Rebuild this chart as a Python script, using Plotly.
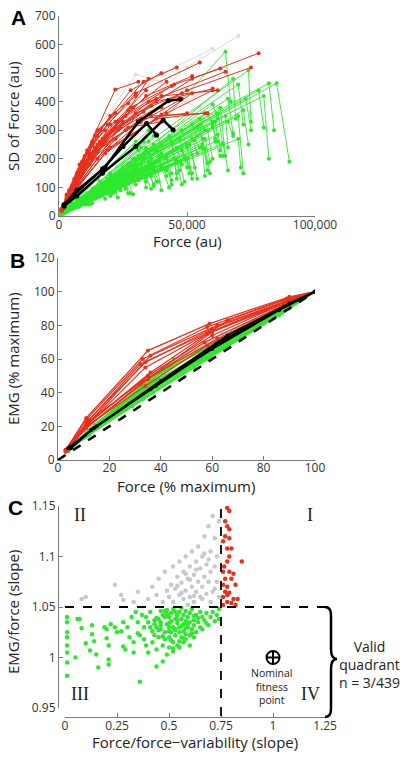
import plotly.graph_objects as go

W, H = 406, 757

# ---------------- Panel A data (force in thousands au, SD in au) ----------------
A_grey_x = [[2,8,25,50,70],[2,7,20,40,60],[1.5,5,14,30,40],[2,9,28,60,75],[1.5,6,18,40,55]]
A_grey_y = [[30,110,330,520,630],[35,120,330,500,585],[30,100,290,495,470],[30,100,300,450,360],[25,90,270,430,380]]

A_green_x = [[2,8,25,55,58],[2,9,28,63,65],[3,10,32,70,72],[3,11,35,80,82],[3,12,38,85,90],
             [2,8,24,50,52],[2,7,20,42,44],[1,5,15,32,34],[1,4,12,25,27],[1.5,6,18,38,40],
             [2,9,27,58,60],[3,10,30,65,66],[2,8,26,54,56],[2,7,22,46,48],[1,5,16,34,36],
             [1,4,13,28,30],[2,8,23,48,50],[3,11,33,73,75],[3,12,36,78,80],[3,10,30,68,69],
             [2,9,29,62,64],[1.5,6,19,40,42],[1,4,10,22,24],[1,3,9,18,20],[1,3,8,16,18],
             [0.5,2,6,12,13],[0.5,2,5,10,11],[2,7,21,44,46],[2,9,26,52,54],[2,8,25,50,52],
             [1.5,6,17,36,38],[1,5,14,30,31],[3,11,34,70,72],[3,10,31,66,68],[2,9,28,60,61],
             [2,8,24,47,49],[1.5,6,18,42,44],[1,4,11,24,26],[1,4,12,26,28],[2,7,20,40,42],
             [3,11,33,65,67],[3,12,35,74,75],[2,9,27,55,57],[2,8,23,48,50],[1,5,15,33,35],
             [1,5,14,29,31],[2,7,19,37,39],[1.5,6,16,31,33],[1,3,10,20,22],[2,8,22,43,45],
             [3,10,30,60,62],[2,9,25,52,54],[1,4,13,27,29],[1,3,7,14,15],[0.5,2,7,15,16],
             [2,8,20,38,40],[2,7,18,35,37],[1.5,5,15,30,32],[3,11,34,82,84],[2,10,30,58,60],
             [2,8,21,47,49],[2,9,24,56,57],[1,5,16,35,37],[2,7,22,51,53],[3,10,29,61,63],
             [1,4,14,33,34],[2,6,19,45,46],[1,5,17,39,41],[2,8,26,57,59],[1,3,11,25,26],
             [1.5,6,18,40,43],[2,7,21,46,48],[2,8,24,52,54],[2,9,27,57,59],[3,10,31,64,66],
             [3,11,34,70,71],[1,4,12,27,29],[1,5,15,34,36],[2,6,19,42,44],[2,8,23,50,51],
             [2,9,26,56,58],[3,10,30,62,64],[1,3,10,22,23],[0.5,2,5,11,12],[1,4,11,21,23],
             [1.5,5,14,30,32],[2,7,20,44,46],[2,8,25,53,55],[3,11,32,66,68],[3,12,36,72,74],
             [2,6,17,36,37],[1,5,13,26,28],[2,7,18,37,39],[2,8,22,46,47],[1,4,10,19,20],
             [3,10,29,60,62],[2,9,28,61,63],[1,3,9,20,21],[1.5,6,17,35,37],[2,8,24,49,51]]
A_green_y = [[15,50,150,320,160],[18,60,180,380,210],[20,65,200,350,150],[22,70,220,420,200],[20,65,230,465,190],
             [12,40,120,250,130],[10,35,100,210,110],[10,32,90,180,100],[8,25,70,140,80],[10,35,95,190,90],
             [14,48,140,300,200],[20,60,170,350,240],[14,50,150,310,270],[12,42,120,240,180],[10,30,90,170,140],
             [9,28,75,150,110],[10,38,110,230,170],[20,70,210,410,300],[22,75,230,440,310],[20,65,200,480,340],
             [15,55,180,360,250],[10,38,110,220,160],[8,22,60,120,90],[7,20,50,100,70],[6,18,45,90,60],
             [5,14,35,70,45],[5,13,30,55,40],[12,40,120,260,150],[13,45,130,270,220],[12,40,120,200,150],
             [10,33,95,170,120],[9,28,80,160,130],[22,75,240,460,320],[20,68,210,410,290],[16,58,170,330,270],
             [14,48,140,270,210],[10,36,100,200,150],[9,25,65,130,100],[8,24,60,110,80],[11,36,100,180,140],
             [22,80,260,575,400],[22,80,260,510,330],[16,60,180,340,300],[14,52,150,300,240],[10,35,100,220,190],
             [10,33,95,200,160],[12,45,130,250,210],[12,42,120,230,200],[9,28,70,140,120],[14,50,140,280,230],
             [20,70,200,390,340],[16,58,170,320,280],[10,35,95,180,160],[8,22,55,100,90],[6,18,45,80,70],
             [15,55,150,290,250],[15,55,160,300,280],[12,45,130,260,240],[20,70,230,465,300],[16,62,190,360,320],
             [11,35,95,190,120],[12,40,115,240,140],[9,30,85,165,105],[12,42,125,250,170],[18,60,175,330,230],
             [8,26,80,160,120],[10,34,100,200,130],[9,31,95,190,170],[13,44,135,270,190],[7,22,60,115,95],
             [10,30,80,170,100],[11,34,90,190,110],[12,38,105,215,130],[13,42,115,235,150],[15,46,125,255,160],
             [16,50,135,270,170],[7,20,55,115,75],[8,24,65,135,95],[9,28,80,165,125],[10,32,95,200,150],
             [12,40,120,250,185],[14,46,140,285,210],[6,16,40,85,65],[4,10,25,50,40],[8,22,60,125,110],
             [10,30,85,170,150],[12,38,110,225,190],[14,44,130,265,240],[18,56,165,330,280],[20,62,185,370,250],
             [12,36,100,200,175],[9,27,75,150,130],[10,30,85,160,120],[12,36,100,200,160],[7,19,50,100,85],
             [17,55,160,310,260],[14,46,135,260,210],[7,18,48,95,80],[9,28,75,150,110],[11,36,100,200,170]]

A_red_x = [[1.5,5,14,28,40],[1,4,11,22,31],[2,6,16,33,46],[1.5,5,13,30,55],[2,7,20,45,63],
           [2,7,22,52,78],[2,8,23,50,75],[1.5,5,15,35,65],[1,4,12,28,44],[1,4,10,20,30],
           [1,3,8,15,22],[1,3,9,19,27],[1.5,5,14,30,48],[2,6,18,38,60],[2,6,19,40,62],
           [1,3,7,13,18],[1,3,6,11,15],[1,4,9,17,25],[1,4,11,24,36],[1.5,5,15,32,50],
           [2,6,17,36,58],[1,3,8,16,23],[1,4,12,26,38],[1.5,5,14,29,42],[1,4,10,21,33],
           [1.5,6,16,34,52],[1,3,10,22,34],[1,3,7,15,22],[1,4,13,27,40],[1.5,5,14,27,35],
           [2,7,20,42,60],[2,6,18,38,57],[1.5,5,15,32,48],[1,4,12,26,40],[2,7,19,40,52]]
A_red_y = [[30,100,280,440,500],[25,85,230,443,470],[35,110,300,470,520],[30,95,260,430,537],[35,120,320,460,516],
           [30,110,310,480,570],[30,115,300,440,520],[28,90,250,400,505],[22,80,220,380,455],[24,90,210,350,420],
           [20,75,180,300,360],[18,70,190,320,395],[25,85,230,360,430],[30,100,260,400,445],[32,105,280,420,440],
           [20,60,150,250,300],[18,55,130,220,280],[22,70,170,270,330],[22,75,190,310,385],[26,88,230,340,360],
           [30,95,250,350,360],[22,65,160,260,330],[24,80,210,350,410],[28,90,240,380,470],[20,70,180,300,365],
           [30,100,260,420,490],[22,72,190,330,440],[20,62,140,230,270],[20,72,200,310,330],[26,88,230,370,480],
           [30,100,240,360,440],[28,90,220,340,360],[25,80,200,330,410],[20,70,180,300,380],[30,95,230,355,430]]

A_black_x = [[2,7,18,31,42.7,47.3],[2,6,17,25,34.2,38.1],[2,7,17,30,40.7,44.6]]
A_black_y = [[40,90,170,330,403,409],[38,75,165,243,324,283],[35,70,150,243,336,301]]

# ---------------- Panel B data (% maximum) ----------------
B_green_x = [[4,12,36,60,85,100],[4,11,33,58,83,100],[5,13,40,65,90,100],[3,10,30,55,80,100],[4,12,38,62,88,100],
             [5,14,44,68,92,100],[4,12,35,60,86,100],[3,9,28,52,78,100],[4,11,34,57,82,100],[5,15,42,70,93,100],
             [4,12,37,63,90,100],[3,10,31,55,84,100],[4,13,39,66,89,100],[4,11,33,59,87,100],[5,14,43,64,85,100],
             [4,12,40,62,82,100],[3,10,29,53,80,100],[4,12,36,61,91,100],[5,13,45,67,88,100],[4,12,34,58,84,100],
             [4,13,41,64,86,100],[5,12,38,60,90,100],[3,11,32,57,83,100],[4,14,42,69,91,100]]
B_green_y = [[6,16,42,65,88,100],[6,15,38,61,84,100],[8,18,46,70,92,100],[5,14,36,60,83,100],[7,17,45,68,90,100],
             [8,20,55,75,95,100],[6,15,40,63,86,100],[5,13,34,57,80,100],[6,16,42,62,86,100],[8,20,50,76,94,100],
             [6,15,40,65,90,100],[5,14,37,59,85,100],[7,19,48,72,91,100],[5,14,36,61,87,100],[8,21,56,72,88,100],
             [7,18,52,70,86,100],[5,13,32,55,81,100],[6,16,44,67,93,100],[8,19,60,74,90,100],[6,15,38,60,84,100],
             [7,19,53,71,88,100],[8,17,47,66,91,100],[5,15,39,61,85,100],[7,20,54,75,93,100]]

B_grey_x = [[4,12,38,62,88,100],[5,13,36,60,86,100],[4,11,40,64,90,100],[3,12,34,58,85,100]]
B_grey_y = [[7,20,52,72,92,100],[8,21,50,72,91,100],[7,19,55,75,93,100],[6,20,48,70,90,100]]

B_red_x = [[3,11,35,59,90,100],[3,11,33,58,89,100],[4,12,34,60,90,100],[3,11,32,59,88,100],[4,12,36,62,90,100],
           [3,11,34,58,90,100],[4,11,35,60,88,100],[3,12,33,62,90,100],[4,11,35,57,88,100],[3,10,32,60,90,100],
           [4,12,36,66,90,100],[3,11,34,58,89,100]]
B_red_y = [[6,25,65,81,97,100],[6,24,60,79,96,100],[7,24,58,78,95,100],[6,22,57,76,94,100],[7,22,62,80,95,100],
           [6,20,55,75,94,100],[6,21,50,74,93,100],[6,23,47,72,93,100],[7,19,48,70,92,100],[5,18,45,76,95,100],
           [7,22,52,83,96,100],[6,20,44,68,92,100]]

B_black_x = [[5,15,40,66,90,100],[5,14,38,63,88,100],[4,13,36,60,86,100]]
B_black_y = [[8,20,47,74,93,100],[7,19,44,70,91,100],[7,18,42,66,89,100]]

B_identity = [0, 100]

# ---------------- Panel C data (slopes) ----------------
C_green_x = [0.01,0.01,0.01,0.01,0.01,0.01,0.01,0.01,0.05,0.07,0.08,0.1,0.12,0.13,0.13,0.14,0.15,0.16,0.19,0.2,
             0.2,0.21,0.21,0.21,0.22,0.24,0.25,0.27,0.28,0.29,0.3,0.31,0.33,0.33,0.34,0.35,0.36,0.36,0.37,0.38,
             0.38,0.39,0.4,0.4,0.41,0.42,0.42,0.43,0.44,0.44,0.45,0.45,0.46,0.46,0.47,0.47,0.48,0.48,0.48,0.49,
             0.49,0.5,0.5,0.5,0.5,0.51,0.51,0.51,0.52,0.52,0.52,0.53,0.53,0.53,0.54,0.54,0.54,0.55,0.55,0.55,
             0.56,0.56,0.56,0.57,0.57,0.57,0.58,0.58,0.58,0.59,0.59,0.6,0.6,0.6,0.61,0.61,0.62,0.62,0.63,0.63,
             0.64,0.65,0.65,0.66,0.67,0.68,0.69,0.7,0.71,0.72,0.73,0.74,0.74,0.46,0.47,0.44,0.43,0.52,0.55,0.49,
             0.53,0.57,0.6,0.62,0.66,0.41,0.39,0.35,0.32,0.06,0.28,0.45,0.5,0.54,0.58,0.47,0.51,0.56,0.43,0.61,
             0.64,0.68,0.49,0.53,0.57,0.59,0.48,0.52,0.55,0.44,0.5,0.62,0.58,0.46,0.54]
C_green_y = [1.04,1.035,1.025,1.02,1.012,1.005,0.995,0.982,1.0,1.038,1.029,1.014,1.007,1.032,1.023,1.016,1.003,0.99,1.03,1.028,
             1.019,1.012,0.998,0.993,1.033,1.03,1.025,1.026,1.011,1.008,1.03,1.02,1.015,1.005,1.045,1.024,1.022,0.976,1.042,1.018,
             1.03,1.012,1.035,1.005,1.045,1.026,1.015,1.033,0.991,1.008,1.02,1.038,1.046,1.028,1.012,0.996,1.04,1.025,1.018,1.033,
             1.047,1.02,1.03,1.04,1.01,1.036,1.025,1.044,1.015,1.03,1.048,1.022,1.038,1.028,1.042,1.034,1.012,1.025,1.045,1.03,
             1.038,1.02,1.049,1.033,1.042,1.026,1.036,1.018,1.046,1.03,1.04,1.022,1.044,1.035,1.028,1.048,1.037,1.032,1.042,1.025,
             1.035,1.045,1.03,1.04,1.037,1.044,1.032,1.04,1.045,1.036,1.042,1.048,1.038,1.035,1.042,1.03,1.022,1.006,1.01,1.003,
             1.045,1.015,1.012,1.02,1.028,1.03,1.04,1.035,1.04,1.038,1.035,1.027,1.034,1.041,1.029,1.021,1.017,1.031,1.037,1.024,
             1.039,1.034,1.043,1.027,1.019,1.033,1.046,1.009,1.016,1.039,1.026,1.041,1.023,1.032,1.037]

C_grey_x = [0.08,0.1,0.24,0.27,0.28,0.33,0.35,0.4,0.42,0.44,0.45,0.47,0.48,0.49,0.5,0.51,0.52,0.52,0.53,0.54,
            0.55,0.55,0.56,0.57,0.57,0.58,0.58,0.59,0.6,0.6,0.61,0.61,0.62,0.62,0.63,0.63,0.64,0.64,0.65,0.65,
            0.66,0.66,0.67,0.67,0.68,0.68,0.69,0.69,0.7,0.7,0.71,0.71,0.72,0.72,0.73,0.73,0.74,0.74,0.7,0.59,
            0.56,0.6,0.63,0.66,0.69,0.72,0.54,0.58,0.62,0.67]
C_grey_y = [1.058,1.06,1.072,1.062,1.057,1.055,1.065,1.058,1.07,1.062,1.078,1.055,1.085,1.066,1.06,1.072,1.09,1.055,1.068,1.08,
            1.062,1.095,1.074,1.058,1.085,1.066,1.1,1.078,1.06,1.09,1.07,1.105,1.082,1.055,1.095,1.065,1.075,1.11,1.088,1.06,
            1.1,1.07,1.08,1.12,1.092,1.063,1.13,1.075,1.105,1.085,1.14,1.065,1.118,1.09,1.1,1.075,1.135,1.06,1.055,1.052,
            1.064,1.077,1.087,1.058,1.097,1.068,1.071,1.083,1.061,1.103]

C_red_x = [0.78,0.79,0.77,0.78,0.79,0.77,0.79,0.78,0.8,0.76,0.78,0.85,0.76,0.79,0.81,0.77,0.8,0.76,0.78,0.82,
           0.77,0.79,0.81,0.83,0.76,0.78,0.8,0.82,0.76,0.78,0.79,0.765]
C_red_y = [1.148,1.145,1.135,1.13,1.127,1.12,1.118,1.108,1.108,1.115,1.095,1.095,1.085,1.085,1.083,1.078,1.078,1.072,1.07,1.072,
           1.065,1.064,1.058,1.058,1.06,1.055,1.054,1.052,1.052,1.062,1.1,1.09]

C_x_threshold = 0.75
C_y_threshold = 1.05
C_nominal = (1.0, 1.0)

GREEN = "#2ee82e"
RED = "#e8301c"
GREY = "#c8c8c8"

def px(x):
    return x / W

def py(y):
    return 1 - y / H

def joined(xs, ys):
    X, Y = [], []
    for a, b in zip(xs, ys):
        X += list(a) + [None]
        Y += list(b) + [None]
    return X, Y

fig = go.Figure()

def add_lines(xs, ys, color, xa, ya, width=1, msize=4):
    X, Y = joined(xs, ys)
    fig.add_trace(go.Scatter(x=X, y=Y, mode="lines+markers", xaxis=xa, yaxis=ya,
                             line=dict(color=color, width=width),
                             marker=dict(color=color, size=msize),
                             connectgaps=False, hoverinfo="skip"))

# Panel A
add_lines(A_grey_x, A_grey_y, "#dcdcdc", "x", "y")
add_lines(A_green_x, A_green_y, GREEN, "x", "y", width=0.9)
add_lines(A_red_x, A_red_y, RED, "x", "y")
add_lines(A_black_x, A_black_y, "black", "x", "y", width=2.5, msize=5)

# Panel B
add_lines(B_green_x, B_green_y, GREEN, "x2", "y2", width=1.2)
add_lines(B_grey_x, B_grey_y, GREY, "x2", "y2")
add_lines(B_red_x, B_red_y, RED, "x2", "y2", width=1.2)
add_lines(B_black_x, B_black_y, "black", "x2", "y2", width=2, msize=4)
fig.add_trace(go.Scatter(x=B_identity, y=B_identity, mode="lines", xaxis="x2", yaxis="y2",
                         line=dict(color="black", width=2.5, dash="dash"), hoverinfo="skip"))

# Panel C
fig.add_trace(go.Scatter(x=C_grey_x, y=C_grey_y, mode="markers", xaxis="x3", yaxis="y3",
                         marker=dict(color=GREY, size=4.5)))
fig.add_trace(go.Scatter(x=C_green_x, y=C_green_y, mode="markers", xaxis="x3", yaxis="y3",
                         marker=dict(color=GREEN, size=4.5)))
fig.add_trace(go.Scatter(x=C_red_x, y=C_red_y, mode="markers", xaxis="x3", yaxis="y3",
                         marker=dict(color=RED, size=4.5)))
fig.add_trace(go.Scatter(x=[C_nominal[0]], y=[C_nominal[1]], mode="markers", xaxis="x3", yaxis="y3",
                         marker=dict(symbol="circle-cross-open", size=13, color="black",
                                     line=dict(color="black", width=2))))

AXC = "#7a7a7a"
TF = dict(family="Open Sans, Arial, sans-serif", size=12, color="#333")

def ax(domain, rng, **kw):
    d = dict(domain=domain, range=rng, showline=True, linecolor=AXC, linewidth=1.2,
             ticks="inside", ticklen=4, tickcolor=AXC, showgrid=False, zeroline=False,
             tickfont=TF, fixedrange=True, automargin=False)
    d.update(kw)
    return d

fig.update_layout(
    width=W, height=H, margin=dict(l=0, r=0, t=0, b=0, pad=0, autoexpand=False),
    paper_bgcolor="white", plot_bgcolor="white", showlegend=False,
    xaxis=ax([px(59), px(315)], [0, 100], anchor="y", tickvals=[0, 50, 100],
             ticktext=["0", "50,000", "100,000"], ticklabelstandoff=-3),
    yaxis=ax([py(216), py(16)], [0, 700], anchor="x", tickvals=list(range(0, 701, 100))),
    xaxis2=ax([px(58), px(315)], [0, 100], anchor="y2", tickvals=list(range(0, 101, 20)),
              ticklabelstandoff=-4),
    yaxis2=ax([py(460), py(258)], [0, 120], anchor="x2", tickvals=list(range(0, 121, 20))),
    xaxis3=ax([px(65), px(325)], [0, 1.25], anchor="free", position=py(717),
              tickvals=[0, 0.25, 0.5, 0.75, 1, 1.25],
              ticktext=["0", "0.25", "0.5", "0.75", "1", "1.25"], ticklabelstandoff=-3),
    yaxis3=ax([py(708), py(506)], [0.95, 1.15], anchor="free", position=px(58),
              tickvals=[0.95, 1, 1.05, 1.1, 1.15],
              ticktext=["0.95", "1", "1.05", "1.1", "1.15"]),
)

# threshold dashed lines in panel C
fig.add_shape(type="line", xref="x3", yref="y3", x0=0, x1=1.25, y0=C_y_threshold, y1=C_y_threshold,
              line=dict(color="black", width=1.8, dash="dash"))
fig.add_shape(type="line", xref="x3", yref="paper", x0=C_x_threshold, x1=C_x_threshold,
              y0=py(716), y1=py(506), line=dict(color="black", width=1.8, dash="dash"))

# curly brace
pts = "M {a},{b} Q {c},{b} {c},{d} L {c},{e} Q {c},{f} {g},{f} Q {c},{f} {c},{h} L {c},{i} Q {c},{j} {a},{j}"
path = pts.format(a=px(325), c=px(331), g=px(337),
                  b=py(607), d=py(615), e=py(649), f=py(659), h=py(669), i=py(709), j=py(717))
fig.add_shape(type="path", xref="paper", yref="paper", path=path, line=dict(color="black", width=2.5))

TITLE_F = dict(family="Open Sans, Arial, sans-serif", size=15, color="#222")
SERIF = dict(family="Liberation Serif, DejaVu Serif, serif", size=18, color="#222")
annots = [
    dict(text="<b>A</b>", x=px(18), y=py(18), font=dict(family="Arial, Liberation Sans", size=21, color="black")),
    dict(text="<b>B</b>", x=px(17), y=py(260), font=dict(family="Arial, Liberation Sans", size=21, color="black")),
    dict(text="<b>C</b>", x=px(15), y=py(507), font=dict(family="Arial, Liberation Sans", size=21, color="black")),
    dict(text="Force (au)", x=px(187), y=py(241), font=TITLE_F),
    dict(text="SD of Force (au)", x=px(13), y=py(116), font=TITLE_F, textangle=-90),
    dict(text="Force (% maximum)", x=px(186), y=py(486), font=TITLE_F),
    dict(text="EMG (% maximum)", x=px(13), y=py(359), font=TITLE_F, textangle=-90),
    dict(text="Force/force\u2212variability (slope)", x=px(195), y=py(742), font=TITLE_F),
    dict(text="EMG/force (slope)", x=px(13), y=py(612), font=TITLE_F, textangle=-90),
    dict(text="II", x=px(80), y=py(515), font=SERIF),
    dict(text="I", x=px(310), y=py(515), font=SERIF),
    dict(text="III", x=px(80), y=py(694), font=SERIF),
    dict(text="IV", x=px(310), y=py(694), font=SERIF),
    dict(text="Nominal<br>fitness<br>point", x=px(272), y=py(686),
         font=dict(family="Open Sans, Arial, sans-serif", size=10.5, color="#222")),
    dict(text="Valid<br>quadrant<br>n = 3/439", x=px(369), y=py(664),
         font=dict(family="Open Sans, Arial, sans-serif", size=14, color="#222")),
]
for a in annots:
    a.update(xref="paper", yref="paper", showarrow=False, xanchor="center", yanchor="middle")
    fig.add_annotation(**a)

fig.write_html("out.html", config={"displayModeBar": False},
               post_script="document.body.style.margin='0';document.body.style.overflow='hidden';")
